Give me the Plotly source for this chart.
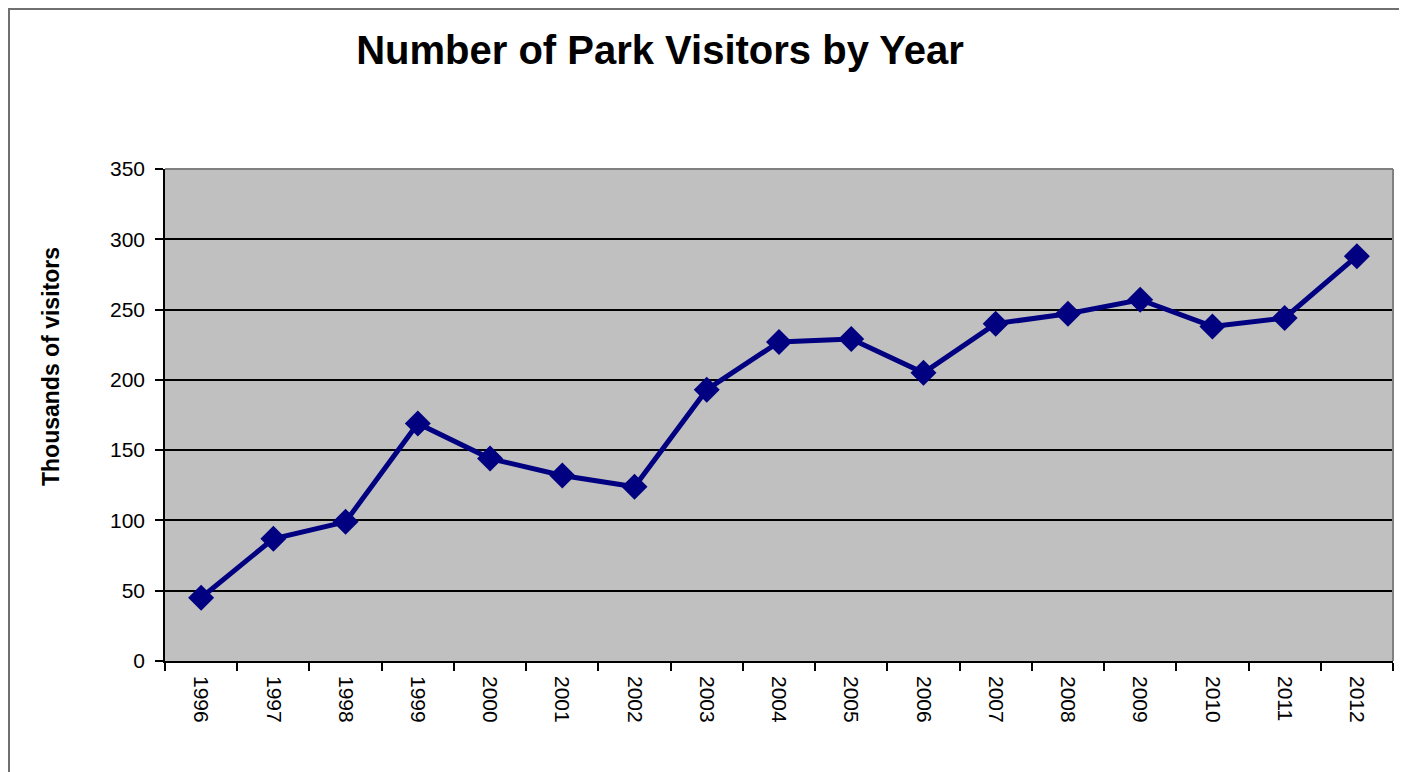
import plotly.graph_objects as go

years = [str(y) for y in range(1996, 2013)]
visitors = [45, 87, 99, 169, 144, 132, 124, 193, 227, 229, 205, 240, 247, 257, 238, 244, 288]

title_text = "Number of Park Visitors by Year"
y_title = "Thousands of visitors"

# page body has an 8px margin; figure origin sits at page (8, 8)
OFF = 8
W, H = 1407 - OFF, 772 - OFF
L, R, T, B = 165 - OFF, 14, 169 - OFF, 111
pw, ph = W - L - R, H - T - B

def px_x(p):
    return (p - OFF - L) / pw

def px_y(p):
    return (H - B - (p - OFF)) / ph

fig = go.Figure()
fig.add_trace(go.Scatter(
    x=years, y=visitors, mode="lines+markers",
    line=dict(color="#000080", width=5),
    marker=dict(symbol="diamond", size=20, color="#000080"),
    cliponaxis=False,
))

fig.update_layout(
    width=W, height=H,
    margin=dict(l=L, r=R, t=T, b=B),
    paper_bgcolor="white",
    plot_bgcolor="#c0c0c0",
    showlegend=False,
    font=dict(family="Liberation Sans, Arial, sans-serif", color="black", size=21),
    title=dict(text="<b>" + title_text + "</b>", x=(660 - OFF) / W, xref="container", xanchor="center",
               y=1 - (50 - OFF) / H, yref="container", yanchor="middle",
               font=dict(size=40, color="black")),
    xaxis=dict(
        type="category", tickson="boundaries", ticks="outside", ticklen=8, tickwidth=1.5,
        tickcolor="black", showline=True, linecolor="black", linewidth=1.5,
        showgrid=False, tickangle=90, tickfont=dict(size=21), range=[-0.5, 16.5],
        ticklabelstandoff=9,
    ),
    yaxis=dict(
        range=[0, 350], dtick=50, ticks="outside", ticklen=8, tickwidth=1.5, tickcolor="black",
        showline=True, linecolor="black", linewidth=1.5, showgrid=True, gridcolor="black",
        gridwidth=1.5, zeroline=False, tickfont=dict(size=21), ticklabelstandoff=6,
    ),
    annotations=[
        dict(text="<b>" + y_title + "</b>", xref="paper", yref="paper",
             x=px_x(51), y=px_y(367), xanchor="center", yanchor="middle",
             textangle=-90, showarrow=False, font=dict(size=23, color="black")),
    ],
    shapes=[
        dict(type="line", xref="paper", yref="paper", x0=0, x1=1, y0=1, y1=1,
             line=dict(color="#808080", width=2)),
        dict(type="line", xref="paper", yref="paper", x0=1, x1=1, y0=0, y1=1,
             line=dict(color="#808080", width=2)),
        dict(type="line", xref="paper", yref="paper", x0=px_x(8), x1=px_x(1420), y0=px_y(9), y1=px_y(9),
             line=dict(color="#707070", width=2)),
        dict(type="line", xref="paper", yref="paper", x0=px_x(9), x1=px_x(9), y0=px_y(9), y1=px_y(790),
             line=dict(color="#707070", width=2)),
    ],
)

fig.write_html("out.html")
